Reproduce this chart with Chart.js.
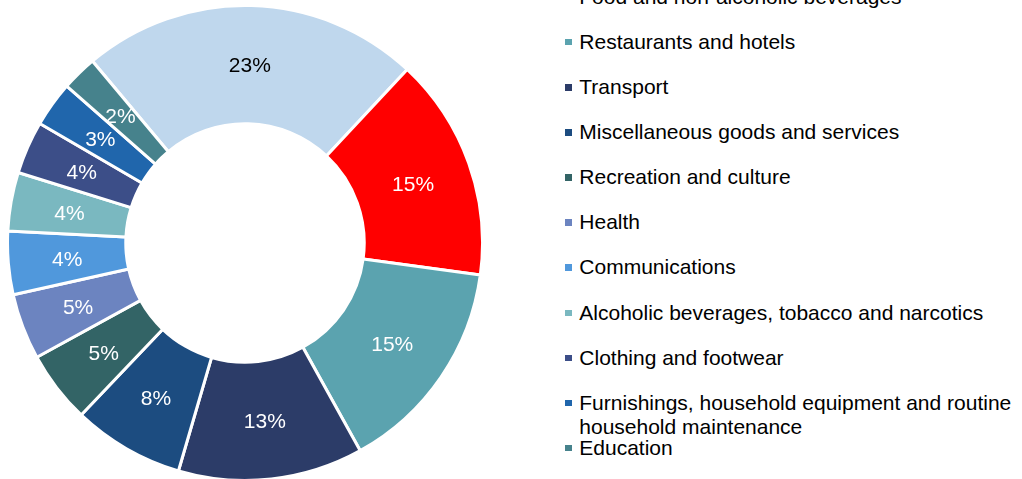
<!DOCTYPE html>
<html>
<head>
<meta charset="utf-8">
<script src="https://cdn.jsdelivr.net/npm/chart.js@4.4.1/dist/chart.umd.min.js"></script>
<style>
  html, body { margin: 0; padding: 0; background: #fff; width: 1022px; height: 479px; overflow: hidden; }
  body { position: relative; font-family: "Liberation Sans", Arial, sans-serif; }
  #chartBox { position: absolute; left: 6px; top: 4px; width: 478px; height: 478px; }
  #legend { position: absolute; left: 562px; top: -70.75px; width: 460px; }
  .item { position: relative; height: 45.1px; box-sizing: border-box; padding-top: 10.55px; padding-left: 17.3px;
          font-size: 21px; line-height: 24px; color: #000; white-space: normal; }
  .item .box { position: absolute; left: 3px; top: 19.5px; width: 6.5px; height: 6.5px; }
</style>
</head>
<body>
<div id="chartBox"><canvas id="grafico"></canvas></div>
<div id="legend"></div>
<script>
const categorias = [
    'Housing, water, electricity, gas and other fuels',
    'Food and non-alcoholic beverages',
    'Restaurants and hotels',
    'Transport',
    'Miscellaneous goods and services',
    'Recreation and culture',
    'Health',
    'Communications',
    'Alcoholic beverages, tobacco and narcotics',
    'Clothing and footwear',
    'Furnishings, household equipment and routine household maintenance',
    'Education'
];
const valores = [23.1, 15.2, 14.8, 12.6, 7.6, 4.9, 4.5, 4.3, 4.0, 3.6, 3.1, 2.4];
const colores = ['#BFD7ED', '#FF0000', '#5BA3AF', '#2C3C68', '#1C4C80', '#336466',
                 '#6C84C0', '#5098DC', '#7AB8C0', '#3C4E88', '#2066AC', '#46828C'];
const colorEtiqueta = ['#000000', '#ffffff', '#ffffff', '#ffffff', '#ffffff', '#ffffff',
                       '#ffffff', '#ffffff', '#ffffff', '#ffffff', '#ffffff', '#ffffff'];

// etiquetas de porcentaje dentro de cada sector
const etiquetas = {
    id: 'etiquetas',
    afterDatasetsDraw(chart) {
        const ctx = chart.ctx;
        const meta = chart.getDatasetMeta(0);
        ctx.save();
        ctx.font = '21px "Liberation Sans", Arial, sans-serif';
        ctx.textAlign = 'center';
        ctx.textBaseline = 'middle';
        meta.data.forEach((arc, i) => {
            const p = arc.tooltipPosition();
            ctx.fillStyle = colorEtiqueta[i];
            ctx.fillText(Math.round(valores[i]) + '%', p.x, p.y + 2);
        });
        ctx.restore();
    }
};

new Chart(document.getElementById('grafico').getContext('2d'), {
    type: 'doughnut',
    data: {
        labels: categorias,
        datasets: [{
            data: valores,
            backgroundColor: colores,
            borderColor: '#ffffff',
            borderWidth: 3
        }]
    },
    options: {
        responsive: true,
        maintainAspectRatio: false,
        animation: false,
        cutout: '50.2%',
        rotation: -40,
        layout: { padding: 0 },
        plugins: { legend: { display: false }, tooltip: { enabled: false } }
    },
    plugins: [etiquetas]
});

document.getElementById('legend').innerHTML = categorias.map((c, i) => `
    <div class="item"><span class="box" style="background:${colores[i]}"></span>${c}</div>
`).join('');
</script>
</body>
</html>
